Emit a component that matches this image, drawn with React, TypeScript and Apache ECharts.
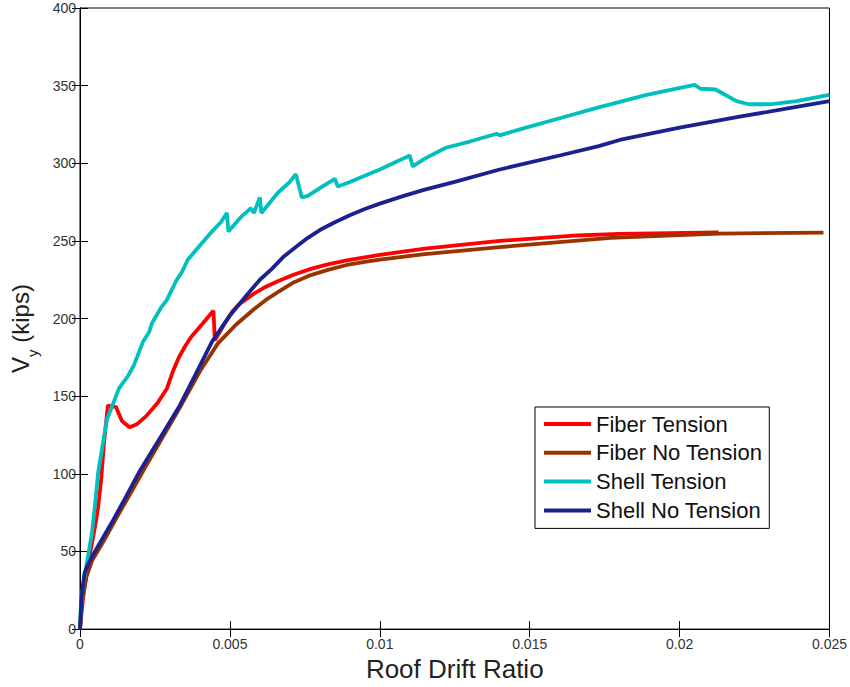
import React, { useEffect, useRef } from "react";
import * as echarts from "echarts";

const seriesNames = ["Fiber Tension", "Fiber No Tension", "Shell Tension", "Shell No Tension"];
const seriesColors = ["#FF0000", "#993300", "#00BFBF", "#1A2290"];

const xTicks = [0, 0.005, 0.01, 0.015, 0.02, 0.025];
const yTicks = [0, 50, 100, 150, 200, 250, 300, 350, 400];

const fiberTension: [number, number][] = [
  [0, 0], [0.0001, 20], [0.0003, 45], [0.0005, 66], [0.0006, 78], [0.0007, 95], [0.0008, 120],
  [0.00093, 144], [0.0012, 143], [0.0014, 134], [0.00165, 130], [0.0019, 132], [0.0022, 137],
  [0.0026, 146], [0.0029, 155], [0.0031, 166], [0.0033, 175], [0.0035, 182], [0.0037, 188],
  [0.0041, 197], [0.00445, 205], [0.0045, 186], [0.0048, 196], [0.0051, 205], [0.0053, 209],
  [0.0058, 216], [0.0062, 220.5], [0.0066, 224], [0.0071, 228], [0.0077, 232], [0.0083, 235],
  [0.0089, 237.5], [0.01, 241], [0.0115, 245], [0.014, 250], [0.0166, 253.5], [0.018, 254.5],
  [0.0213, 255.5],
];

const fiberNoTension: [number, number][] = [
  [0, 0], [0.00005, 15], [0.0002, 33], [0.0004, 44], [0.0008, 57], [0.0012, 71], [0.0017, 88],
  [0.0022, 105], [0.0028, 125], [0.0034, 145], [0.004, 166], [0.0046, 184], [0.0049, 190],
  [0.0052, 196], [0.0055, 201], [0.0058, 206], [0.0062, 212], [0.0066, 217], [0.0071, 223],
  [0.0077, 228], [0.0083, 231.5], [0.0089, 234.5], [0.0095, 236.5], [0.01, 238], [0.0115, 241.5],
  [0.014, 246], [0.0177, 252], [0.0213, 254.7], [0.0248, 255.4],
];

const shellTension: [number, number][] = [
  [0, 0], [0.00003, 15], [0.0001, 28], [0.00025, 45], [0.0004, 62], [0.0005, 80], [0.0006, 100],
  [0.00075, 118], [0.0009, 135], [0.0011, 145], [0.0013, 155], [0.0016, 163], [0.0018, 170],
  [0.0021, 185], [0.0023, 191], [0.0024, 197], [0.0027, 207], [0.0029, 212], [0.0032, 224],
  [0.0034, 230], [0.0036, 238], [0.004, 247], [0.0044, 256], [0.0047, 262], [0.0049, 268],
  [0.00495, 256], [0.0054, 266], [0.0057, 271], [0.0058, 268], [0.006, 278], [0.00605, 268],
  [0.0066, 281], [0.007, 288], [0.0072, 293], [0.0074, 278], [0.0076, 279], [0.008, 284],
  [0.0085, 290], [0.0086, 285], [0.009, 288], [0.01, 296], [0.011, 305], [0.0111, 298],
  [0.0115, 303], [0.0122, 310], [0.013, 314], [0.0139, 319], [0.014, 318], [0.0147, 322],
  [0.016, 329], [0.0173, 336], [0.0189, 344], [0.0205, 350.5], [0.0207, 348], [0.0212, 347.5],
  [0.0219, 340], [0.0223, 338], [0.023, 338], [0.0239, 340], [0.025, 344],
];

const shellNoTension: [number, number][] = [
  [0, 0], [0.00005, 20], [0.00015, 36], [0.0003, 43], [0.0005, 50], [0.0008, 60], [0.0011, 70],
  [0.0015, 84], [0.002, 102], [0.0027, 124], [0.0033, 143], [0.0038, 162], [0.0044, 185],
  [0.005, 202], [0.0056, 216], [0.006, 225], [0.0064, 232], [0.0068, 240], [0.0072, 246],
  [0.0076, 252], [0.008, 257], [0.0085, 262], [0.009, 266.5], [0.0095, 270.5], [0.01, 274],
  [0.0108, 279], [0.0115, 283], [0.0125, 288], [0.014, 296], [0.016, 305], [0.0173, 311],
  [0.018, 315], [0.02, 323], [0.022, 330], [0.025, 340],
];

const seriesData = [fiberTension, fiberNoTension, shellTension, shellNoTension];

export default function App() {
  const ref = useRef<HTMLDivElement>(null);
  useEffect(() => {
    if (!ref.current) return;
    const chart = echarts.init(ref.current, null, { renderer: "svg" });
    const font = "Liberation Sans, Arial, sans-serif";
    const xMin = xTicks[0];
    const xMax = xTicks[xTicks.length - 1];
    const yMin = yTicks[0];
    const yMax = yTicks[yTicks.length - 1];
    const xInterval = xTicks[1] - xTicks[0];
    const yInterval = yTicks[1] - yTicks[0];
    chart.setOption({
      animation: false,
      backgroundColor: "#fff",
      grid: {
        left: 80,
        right: 16,
        top: 8,
        bottom: 53,
        show: true,
        borderColor: "#000",
        borderWidth: 1,
      },
      legend: {
        orient: "vertical",
        left: 535,
        top: 407,
        icon: "rect",
        itemWidth: 47,
        itemHeight: 4,
        itemGap: 6.8,
        padding: [6, 7, 7, 9],
        backgroundColor: "#fff",
        borderColor: "#000",
        borderWidth: 1,
        borderRadius: 0,
        data: seriesNames,
        textStyle: { fontFamily: font, fontSize: 22, color: "#111", lineHeight: 21 },
      },
      xAxis: [
        {
          type: "value",
          min: xMin,
          max: xMax,
          interval: xInterval,
          name: "Roof Drift Ratio",
          nameLocation: "middle",
          nameGap: 21,
          nameTextStyle: { fontFamily: font, fontSize: 26, color: "#222" },
          axisLine: { show: true, lineStyle: { color: "#000", width: 1 } },
          axisTick: { show: true, inside: true, length: 8, lineStyle: { color: "#000" } },
          axisLabel: { fontFamily: font, fontSize: 14, color: "#333", margin: 8 },
          splitLine: { show: false },
        },
        {
          type: "value",
          position: "top",
          min: xMin,
          max: xMax,
          interval: xInterval,
          axisLine: { show: true, lineStyle: { color: "#000", width: 1 } },
          axisTick: { show: true, inside: true, length: 8, lineStyle: { color: "#000" } },
          axisLabel: { show: false },
          splitLine: { show: false },
        },
      ],
      yAxis: [
        {
          type: "value",
          min: yMin,
          max: yMax,
          interval: yInterval,
          name: "{v|V}{s|y}{n| (kips)}",
          nameLocation: "middle",
          nameGap: 48,
          nameRotate: 90,
          nameTextStyle: {
            fontFamily: font,
            color: "#222",
            padding: [0, 20, 0, 0],
            rich: {
              v: { fontFamily: font, fontSize: 24, color: "#222", verticalAlign: "bottom", lineHeight: 26 },
              s: { fontFamily: font, fontSize: 15, color: "#222", verticalAlign: "bottom", lineHeight: 26, padding: [0, 0, -8, 0] },
              n: { fontFamily: font, fontSize: 24, color: "#222", verticalAlign: "bottom", lineHeight: 26 },
            },
          },
          axisLine: { show: true, lineStyle: { color: "#000", width: 1 } },
          axisTick: { show: true, inside: true, length: 8, lineStyle: { color: "#000" } },
          axisLabel: { fontFamily: font, fontSize: 14, color: "#333", margin: 4 },
          splitLine: { show: false },
        },
        {
          type: "value",
          position: "right",
          min: yMin,
          max: yMax,
          interval: yInterval,
          axisLine: { show: true, lineStyle: { color: "#000", width: 1 } },
          axisTick: { show: true, inside: true, length: 8, lineStyle: { color: "#000" } },
          axisLabel: { show: false },
          splitLine: { show: false },
        },
      ],
      series: seriesNames.map((name, i) => ({
        name,
        type: "line",
        data: seriesData[i],
        showSymbol: false,
        symbol: "none",
        smooth: false,
        color: seriesColors[i],
        lineStyle: { color: seriesColors[i], width: 3.8 },
        z: 2 + i,
      })),
    });
    return () => chart.dispose();
  }, []);
  return (
    <div
      ref={ref}
      style={{ position: "fixed", left: 0, top: 0, width: 850, height: 687 }}
    />
  );
}
